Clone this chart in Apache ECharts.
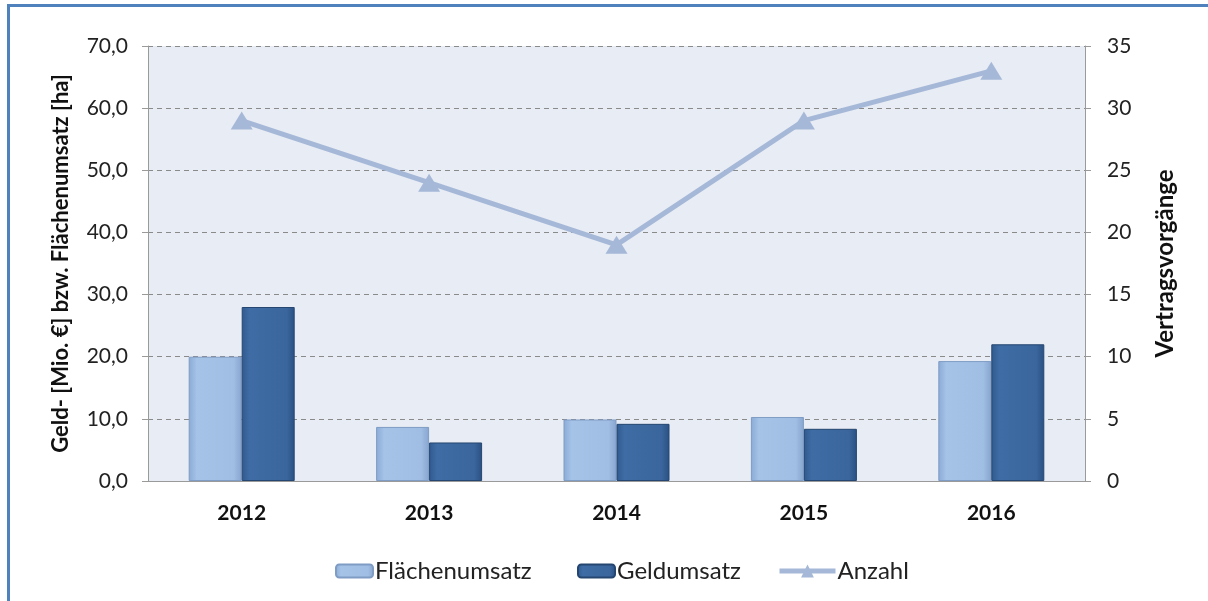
<!DOCTYPE html>
<html lang="de">
<head>
    <meta charset="UTF-8">
    <title>Umsätze 2012-2016</title>
    <style>
        html, body { margin: 0; padding: 0; background: #fff; }
    </style>
</head>
<body>
    <div id="chart" style="width: 1208px;height:601px;"></div>
    <script src="https://cdn.jsdelivr.net/npm/echarts@6/dist/echarts.min.js"></script>
    <script>
        var years = ['2012', '2013', '2014', '2015', '2016'];
        var flaeche = [20.0, 8.7, 9.9, 10.3, 19.3];   // Flächenumsatz [ha]
        var geld = [28.0, 6.2, 9.2, 8.4, 22.0];       // Geldumsatz [Mio. €]
        var anzahl = [29, 24, 19, 29, 33];            // Vertragsvorgänge

        var font = 'Lato, "Open Sans", sans-serif';

        function barGrad(c0, c1, c2, c3) {
            return {
                type: 'linear', x: 0, y: 0, x2: 1, y2: 0,
                colorStops: [
                    { offset: 0, color: c0 },
                    { offset: 0.15, color: c1 },
                    { offset: 0.85, color: c2 },
                    { offset: 1, color: c3 }
                ]
            };
        }

        // eine Legende pro Eintrag, damit Symbolbreiten wie im Original
        function legendItem(name, left, w, h) {
            return {
                left: left, top: 554,
                itemWidth: w, itemHeight: h,
                textStyle: { fontSize: 24, color: '#222', padding: [0, 0, 0, -3] },
                lineStyle: { width: 5 },
                data: [name]
            };
        }

        var myChart = echarts.init(document.getElementById('chart'));
        var option = {
            backgroundColor: '#fff',
            textStyle: { fontFamily: font },
            animation: false,
            graphic: [
                // blauer Rahmen oben und links
                { type: 'rect', shape: { x: 7, y: 4, width: 1201, height: 3 }, style: { fill: '#4f81bd' } },
                { type: 'rect', shape: { x: 7, y: 4, width: 3, height: 597 }, style: { fill: '#4f81bd' } }
            ],
            grid: {
                left: 148, right: 123, top: 46, bottom: 120,
                show: true, backgroundColor: '#e8ecf4', borderWidth: 0
            },
            legend: [
                legendItem('Flächenumsatz', 330, 37, 13),
                legendItem('Geldumsatz', 572, 37, 13),
                legendItem('Anzahl', 772, 56, 16)
            ],
            xAxis: {
                type: 'category',
                data: years,
                axisLine: { lineStyle: { color: '#9a9a9a' } },
                axisTick: { length: 6, lineStyle: { color: '#9a9a9a' } },
                axisLabel: { fontSize: 21, fontWeight: 'bold', color: '#111', margin: 22 }
            },
            yAxis: [{
                type: 'value',
                min: 0, max: 70, interval: 10,
                name: 'Geld- [Mio. €] bzw. Flächenumsatz [ha]',
                nameLocation: 'middle', nameGap: 76,
                nameTextStyle: { fontSize: 22, fontWeight: 'bold', color: '#111' },
                axisLine: { show: true, lineStyle: { color: '#9a9a9a' } },
                axisTick: { show: true, length: 6, lineStyle: { color: '#9a9a9a' } },
                axisLabel: {
                    fontSize: 21, color: '#222', margin: 20,
                    formatter: function (v) { return v.toFixed(1).replace('.', ','); }
                },
                splitLine: { lineStyle: { color: '#8a8a8a', type: [5, 4] } }
            }, {
                type: 'value',
                min: 0, max: 35, interval: 5,
                name: 'Vertragsvorgänge',
                nameLocation: 'middle', nameGap: 68,
                nameTextStyle: { fontSize: 24, fontWeight: 'bold', color: '#111' },
                axisLine: { show: true, lineStyle: { color: '#9a9a9a' } },
                axisTick: { show: true, length: 6, lineStyle: { color: '#9a9a9a' } },
                axisLabel: { fontSize: 21, color: '#222', margin: 22 },
                splitLine: { show: false }
            }],
            series: [{
                name: 'Flächenumsatz',
                type: 'bar',
                barWidth: 53,
                barGap: '0%',
                itemStyle: {
                    color: barGrad('#8aabd6', '#a5c2e7', '#a0bde3', '#86a5cf'),
                    borderColor: '#7f9cc4', borderWidth: 1
                },
                data: flaeche
            }, {
                name: 'Geldumsatz',
                type: 'bar',
                barWidth: 53,
                itemStyle: {
                    color: barGrad('#2f5a90', '#3f6ca4', '#3a669d', '#2a5083'),
                    borderColor: '#244670', borderWidth: 1
                },
                data: geld
            }, {
                name: 'Anzahl',
                type: 'line',
                yAxisIndex: 1,
                symbol: 'triangle',
                symbolSize: [22, 18],
                lineStyle: { color: '#a6b8d8', width: 5 },
                itemStyle: { color: '#a6b8d8' },
                z: 5,
                data: anzahl
            }]
        };
        myChart.setOption(option);
    </script>
</body>
</html>
